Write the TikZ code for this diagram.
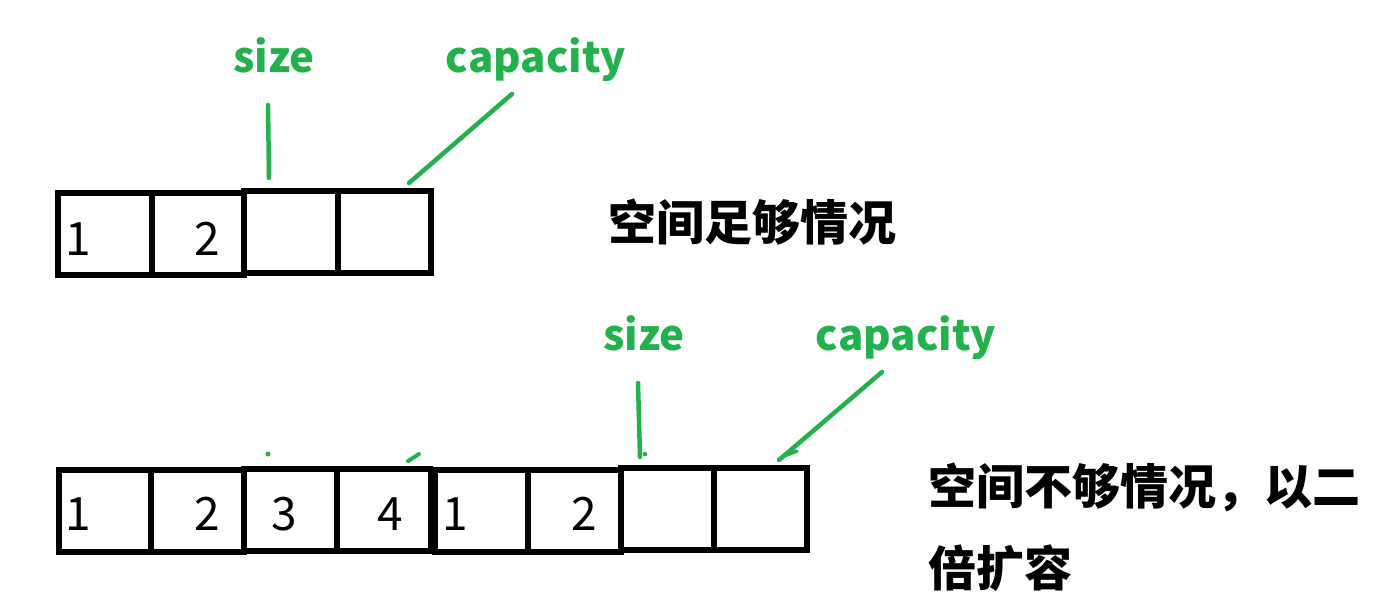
\documentclass[tikz,border=0pt]{standalone}
\usepackage{fontspec}
\setmainfont{Noto Sans CJK SC}
\definecolor{paintgreen}{HTML}{22B14C}
\tikzset{
  cell/.style={draw=black, line width=5.5pt, minimum height=82pt, inner sep=0pt},
  digit/.style={anchor=base, inner sep=0pt, font=\fontsize{46}{46}\selectfont},
  glabel/.style={anchor=base, inner sep=0pt, text=paintgreen, font=\fontsize{42}{42}\selectfont\bfseries},
  pointer/.style={draw=paintgreen, line width=4.5pt, line cap=round},
  cjklabel/.style={inner sep=0pt, font=\fontsize{48}{48}\selectfont\bfseries}
}
\begin{document}
\begin{tikzpicture}[x=1pt,y=-1pt]
\useasboundingbox (0,0) rectangle (1383,610);
% top row
\node[cell, minimum width=94pt] (t1) at (105,234) {};
\node[cell, minimum width=92pt] (t2) at (198,234) {};
\node[cell, minimum width=94pt] (t3) at (291,232) {};
\node[cell, minimum width=93pt] (t4) at (384.5,232) {};
\node[digit] (t1n) at (78,255) {1};
\node[digit] (t2n) at (207,255) {2};
% top labels
\node[glabel] (tsize) at (274,73) {size};
\node[glabel] (tcap) at (536,73) {capacity};
\coordinate (tsa) at (268,105);
\coordinate (tsb) at (269,178);
\coordinate (tca) at (512,94);
\coordinate (tcb) at (409,183);
\draw[pointer] (tsa) -- (tsb);
\draw[pointer] (tca) -- (tcb);
\node[cjklabel] (tcn) at (752,222) {空间足够情况};
% bottom row
\node[cell, minimum width=92pt] (b1) at (105,511) {};
\node[cell, minimum width=93pt] (b2) at (197.5,511) {};
\node[cell, minimum width=93pt] (b3) at (290.5,510) {};
\node[cell, minimum width=93pt] (b4) at (384,510) {};
\node[cell, minimum width=93pt] (b5) at (481.5,511) {};
\node[cell, minimum width=93pt] (b6) at (574.5,511) {};
\node[cell, minimum width=93pt] (b7) at (667.5,509) {};
\node[cell, minimum width=93pt] (b8) at (760.5,509) {};
\node[digit] (b1n) at (78,530) {1};
\node[digit] (b2n) at (207,530) {2};
\node[digit] (b3n) at (284,530) {3};
\node[digit] (b4n) at (390,530) {4};
\node[digit] (b5n) at (455,530) {1};
\node[digit] (b6n) at (584,530) {2};
% remnants of old pointers
\coordinate (ra) at (268,454);
\coordinate (rb) at (408,461);
\coordinate (rc) at (419,454);
\fill[paintgreen] (ra) circle (2.5pt);
\draw[pointer, line width=4pt] (rb) -- (rc);
% bottom labels
\node[glabel] (bsize) at (644,350) {size};
\node[glabel] (bcap) at (906,350) {capacity};
\coordinate (bsa) at (638,383);
\coordinate (bsb) at (640,457);
\coordinate (bsd) at (645,454);
\coordinate (bca) at (882,372);
\coordinate (bcb) at (779,460);
\coordinate (bcc) at (784,456);
\coordinate (bcd) at (797,451);
\draw[pointer] (bsa) -- (bsb);
\fill[paintgreen] (bsd) circle (2.3pt);
\draw[pointer] (bca) -- (bcb);
\draw[pointer, line width=3.5pt] (bcc) -- (bcd);
\node[cjklabel, anchor=west] (bcn1) at (928,487) {空间不够情况，以二};
\node[cjklabel, anchor=west] (bcn2) at (928,568) {倍扩容};
\end{tikzpicture}
\end{document}
